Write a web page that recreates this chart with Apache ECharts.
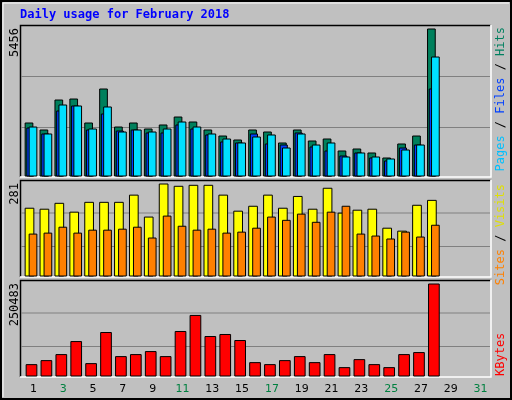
<!DOCTYPE html>
<html><head><meta charset="utf-8">
<script src="https://cdn.jsdelivr.net/npm/echarts@6/dist/echarts.min.js"></script>
<style>html,body{margin:0;padding:0;background:#c0c0c0}#c{width:512px;height:400px}</style>
</head><body><div id="c"></div>
<script>
const days = Array.from({length:31},(_, i)=>String(i+1));
const weekendDays = [3,4,10,11,17,18,24,25,31];
const hits  = [1967,1707,2820,2857,1967,3229,1818,1967,1744,1893,2189,2004,1707,1484,1336,1707,1633,1225,1707,1299,1373,928,1002,854,668,1188,1484,5456];
const files = [1781,1559,2412,2598,1707,2301,1670,1707,1596,1596,1893,1744,1522,1262,1225,1559,1188,1150,1596,1076,928,742,854,668,557,1039,1150,3229];
const pages = [1818,1559,2635,2598,1744,2561,1633,1707,1633,1744,2004,1818,1559,1373,1225,1447,1522,1039,1559,1150,1225,705,854,705,631,965,1150,4416];
const visits= [207,204,222,195,225,225,225,247,180,281,274,277,277,247,198,213,247,207,243,204,268,192,201,204,146,137,216,231];
const sites = [128,131,149,131,140,140,143,149,116,183,152,140,143,131,134,146,180,170,189,164,195,213,128,122,113,134,119,155];
const kbytes= [30970,41900,58300,93800,33700,118400,52800,58300,66500,52800,121200,164900,107500,113000,96600,36400,31000,41900,52800,36400,58300,22800,44600,31000,22800,58300,63800,250483];
const maxTop = 5456, maxMid = 281, maxBot = 250483;

function barSeries(values, gridIdx, x0, x1, color, z){
  return {type:'custom', xAxisIndex:gridIdx, yAxisIndex:gridIdx, z:z,
    data: values.map((v,i)=>[i,v]),
    renderItem:(params, api)=>{
      const top = api.coord([api.value(0), api.value(1)]);
      const base = api.coord([api.value(0), 0]);
      return {type:'rect', shape:{x:top[0]+x0, y:top[1], width:x1-x0, height:base[1]-top[1]},
        style:{fill:color, stroke:'#000', lineWidth:1}};
    }};
}
const grids = [
  {left:26, width:462, top:29, height:147},
  {left:26, width:462, top:184, height:92},
  {left:26, width:462, top:284, height:92}
];
const maxes=[maxTop,maxMid,maxBot];
const xAxes = grids.map((g,i)=>({gridIndex:i, type:'category', data:days, boundaryGap:true,
  axisLine:{show:false}, axisTick:{show:false}, splitLine:{show:false},
  axisLabel:{show:i===2, margin:8, fontFamily:'DejaVu Sans', fontSize:11,
    color:(v)=>weekendDays.includes(+v)?'#008040':'#000'}}));
const yAxes = grids.map((g,i)=>({gridIndex:i, type:'value', min:0, max:maxes[i],
  axisLine:{show:false}, axisTick:{show:false}, axisLabel:{show:false}, splitLine:{show:false}}));

const graphics = [
  {type:'rect', shape:{x:1,y:1,width:510,height:398}, style:{fill:'none',stroke:'#000',lineWidth:2}, z:-10},
  {type:'polyline', shape:{points:[[3,397],[3,3],[509,3]]}, style:{stroke:'#fff',lineWidth:1,fill:'none'}, z:-10},
  {type:'text', left:20, top:9, style:{text:'Daily usage for February 2018', fill:'#0000ff', font:'bold 12px "DejaVu Sans Mono"'}}
];
const frames=[[25,177],[180,277],[280,377]];
const gridLines=[[76.5,127.5],[213,246.5],[313,346.5]];
frames.forEach(([t,b],k)=>{
  graphics.push({type:'rect', shape:{x:20,y:t,width:471,height:b-t}, style:{fill:'#c0c0c0'}, z:-5});
  graphics.push({type:'polyline', shape:{points:[[20.5,b],[20.5,t+0.5],[490.5,t+0.5]]}, style:{stroke:'#000',lineWidth:1.5,fill:'none'}, z:-4});
  graphics.push({type:'polyline', shape:{points:[[491,t],[491,b],[20,b]]}, style:{stroke:'#fff',lineWidth:1.5,fill:'none'}, z:-4});
  gridLines[k].forEach(y=>graphics.push({type:'line', shape:{x1:21,y1:y,x2:490,y2:y}, style:{stroke:'#808080',lineWidth:1}, z:-3}));
});
const mono='12px "DejaVu Sans Mono"';
graphics.push({type:'text', x:9, y:28, rotation:Math.PI/2, style:{text:String(maxTop), textAlign:'right', textVerticalAlign:'top', fill:'#000', font:mono}});
graphics.push({type:'text', x:9, y:183, rotation:Math.PI/2, style:{text:String(maxMid), textAlign:'right', textVerticalAlign:'top', fill:'#000', font:mono}});
graphics.push({type:'text', x:9, y:283, rotation:Math.PI/2, style:{text:String(maxBot), textAlign:'right', textVerticalAlign:'top', fill:'#000', font:mono}});
function rlabel(y, align, parts){
  graphics.push({type:'text', x:495, y:y, rotation:Math.PI/2, style:{
    text: parts.map((p,i)=>'{s'+i+'|'+p[0]+'}').join(''), textAlign:align, textVerticalAlign:'top',
    rich: Object.fromEntries(parts.map((p,i)=>['s'+i,{fill:p[1], font:mono}]))}});
}
rlabel(27,'right',[['Pages','#00c0ff'],[' / ','#000'],['Files','#0040ff'],[' / ','#000'],['Hits','#008060']]);
rlabel(184,'right',[['Sites','#ff8000'],[' / ','#000'],['Visits','#e0e000']]);
rlabel(376,'left',[['KBytes','#ff0000']]);

const chart = echarts.init(document.getElementById('c'), null, {renderer:'canvas'});
chart.setOption({
  animation:false, backgroundColor:'#c0c0c0',
  grid:grids, xAxis:xAxes, yAxis:yAxes, graphic:graphics,
  series:[
    barSeries(hits,0,-8.3,-0.6,'#00805c',1),
    barSeries(files,0,-6.6,0.5,'#0040ff',2),
    barSeries(pages,0,-4.3,3.4,'#00e0ff',3),
    barSeries(visits,1,-8.3,0.4,'#ffff00',1),
    barSeries(sites,1,-4.3,3.4,'#ff8000',2),
    barSeries(kbytes,2,-7.3,3.4,'#ff0000',1)
  ]
});
</script></body></html>
